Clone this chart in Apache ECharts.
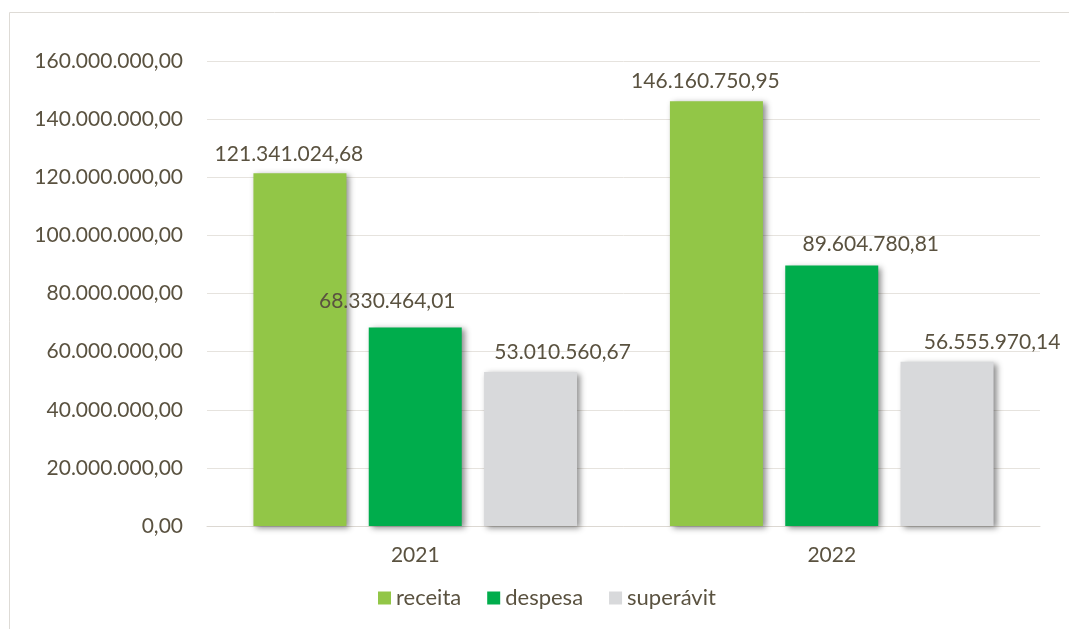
<!DOCTYPE html>
<html>
<head>
<meta charset="utf-8">
<script src="https://cdn.jsdelivr.net/npm/echarts@6/dist/echarts.min.js"></script>
<style>
  html, body { margin: 0; padding: 0; background: #fff; }
  #chart { width: 1069px; height: 629px; }
</style>
</head>
<body>
<div id="chart"></div>
<script>
// dados
var anos = ['2021', '2022']
var receita = [121341024.68, 146160750.95]
var despesa = [68330464.01, 89604780.81]
var superavit = [53010560.67, 56555970.14]

// deslocamento dos rotulos (como no original)
var desvioReceita = [[-11, 0], [-11, 0]]
var desvioDespesa = [[-28, -7], [39, -2]]
var desvioSuperavit = [[32, 0], [45, 0]]

var corTexto = '#5a5240'
var fonte = 'Lato'

// formato brasileiro 1.234.567,89
function fmt (v) {
  var s = Number(v).toFixed(2)
  var partes = s.split('.')
  var inteiro = partes[0].replace(/\B(?=(\d{3})+(?!\d))/g, '.')
  return inteiro + ',' + partes[1]
}

var dom = document.getElementById('chart')
var myChart = echarts.init(dom)

var sombra = {
  shadowColor: 'rgba(0,0,0,0.45)',
  shadowBlur: 6,
  shadowOffsetX: 3,
  shadowOffsetY: 2
}

function rotulo () {
  return {
    show: true,
    position: 'top',
    distance: 9,
    color: corTexto,
    fontFamily: fonte,
    fontSize: 21,
    formatter: function (p) { return fmt(p.value) }
  }
}

function comDesvio (valores, desvios) {
  return valores.map(function (v, i) {
    return { value: v, label: { offset: desvios[i] } }
  })
}

var option = {
  backgroundColor: '#fff',
  animation: false,
  graphic: [{
    type: 'rect',
    shape: { x: 9.5, y: 12.5, width: 1070, height: 640 },
    style: { fill: 'none', stroke: '#dedbd6', lineWidth: 1 },
    silent: true
  }],
  grid: { left: 207, right: 29, top: 61, bottom: 103 },
  legend: {
    bottom: 15,
    left: 373,
    itemWidth: 13,
    itemHeight: 13,
    itemGap: 26,
    icon: 'rect',
    textStyle: { color: corTexto, fontFamily: fonte, fontSize: 22 },
    data: ['receita', 'despesa', 'superávit']
  },
  xAxis: {
    type: 'category',
    data: anos,
    axisLine: { lineStyle: { color: '#dcd8d2', width: 1 } },
    axisTick: { show: false },
    axisLabel: { color: corTexto, fontFamily: fonte, fontSize: 21, margin: 19 }
  },
  yAxis: {
    type: 'value',
    min: 0,
    max: 160000000,
    interval: 20000000,
    axisLine: { show: false },
    axisTick: { show: false },
    splitLine: { lineStyle: { color: '#e6e3de', width: 1 } },
    axisLabel: {
      color: corTexto,
      fontFamily: fonte,
      fontSize: 21,
      margin: 24,
      formatter: function (v) { return fmt(v) }
    }
  },
  series: [
    {
      name: 'receita',
      type: 'bar',
      data: comDesvio(receita, desvioReceita),
      barWidth: 93,
      barGap: '24%',
      itemStyle: Object.assign({ color: '#92c647' }, sombra),
      label: rotulo()
    },
    {
      name: 'despesa',
      type: 'bar',
      data: comDesvio(despesa, desvioDespesa),
      barWidth: 93,
      barGap: '24%',
      itemStyle: Object.assign({ color: '#00ad4c' }, sombra),
      label: rotulo()
    },
    {
      name: 'superávit',
      type: 'bar',
      data: comDesvio(superavit, desvioSuperavit),
      barWidth: 93,
      barGap: '24%',
      itemStyle: Object.assign({ color: '#d8d9db' }, sombra),
      label: rotulo()
    }
  ]
}

myChart.setOption(option)
</script>
</body>
</html>
